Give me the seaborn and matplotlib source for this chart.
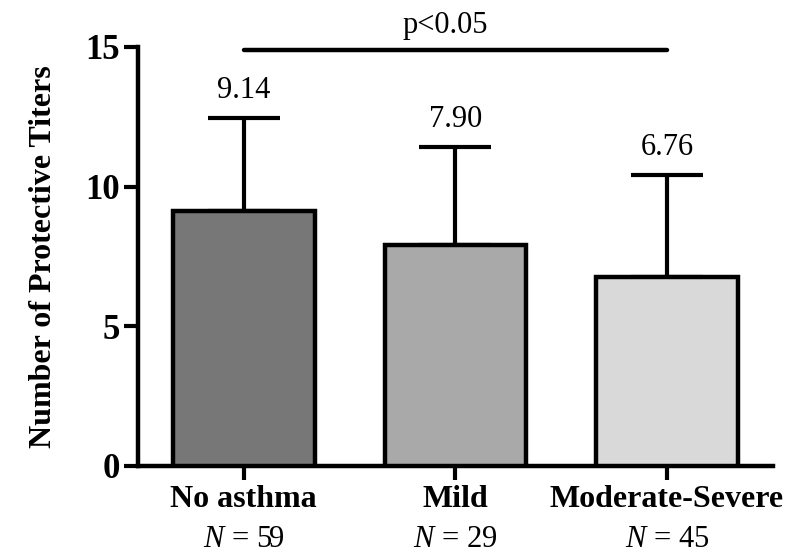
import matplotlib
matplotlib.use("Agg")
import matplotlib.pyplot as plt
import matplotlib.transforms as mtransforms
import seaborn as sns
import pandas as pd

categories = ["No asthma", "Mild", "Moderate-Severe"]
means = [9.14, 7.90, 6.76]
sds = [3.32, 3.52, 3.66]
ns = [59, 29, 45]
value_labels = ["9.14", "7.90", "6.76"]
yticks = [0, 5, 10, 15]
colors = ["#777777", "#a9a9a9", "#d9d9d9"]

sns.set_style("ticks")
plt.rcParams["font.family"] = ["Liberation Serif", "DejaVu Serif"]
plt.rcParams["mathtext.fontset"] = "custom"
plt.rcParams["mathtext.rm"] = "Liberation Serif"
plt.rcParams["mathtext.it"] = "Liberation Serif:italic"
plt.rcParams["text.color"] = "black"
plt.rcParams["axes.labelcolor"] = "black"
plt.rcParams["xtick.color"] = "black"
plt.rcParams["ytick.color"] = "black"

df = pd.DataFrame({"group": categories, "titers": means})

fig = plt.figure(figsize=(8, 5.59), dpi=100)
ax = fig.add_axes([0.1725, 0.1664, 0.966 - 0.1725, 0.916 - 0.1664])

sns.barplot(data=df, x="group", y="titers", hue="group", palette=colors,
            width=0.67, edgecolor="black", linewidth=3.2, legend=False,
            errorbar=None, ax=ax, zorder=3)

xs = list(range(len(categories)))
ax.errorbar(xs, means, yerr=[[0] * len(sds), sds], fmt="none", ecolor="black",
            elinewidth=3, capsize=26, capthick=3, zorder=2)

for x, m, s, lab in zip(xs, means, sds, value_labels):
    ax.text(x, m + s + 0.72, lab, ha="center", va="baseline", fontsize=22,
            color="black")

# significance line
ax.plot([0, 2], [14.9, 14.9], color="black", lw=3.2, solid_capstyle="round",
        clip_on=False)
ax.text(0.95, 15.5, "p<0.05", ha="center", va="baseline", fontsize=22,
        clip_on=False, color="black")

ax.set_xlim(-0.5, 2.5)
ax.set_ylim(0, 15)
ax.set_yticks(yticks)
ax.set_yticklabels([str(t) for t in yticks], fontsize=25, fontweight="bold")
ax.set_xticks(xs)
ax.set_xticklabels(categories, fontsize=23, fontweight="bold")
ax.tick_params(axis="both", width=3, length=10, colors="black", pad=4)
ax.tick_params(axis="y", pad=3)
ax.set_xlabel("")
ax.set_ylabel("Number of Protective Titers", fontsize=23, fontweight="bold",
              labelpad=20, color="black")

sns.despine(ax=ax)
for sp in ["left", "bottom"]:
    ax.spines[sp].set_linewidth(3.2)
    ax.spines[sp].set_color("black")

trans = mtransforms.blended_transform_factory(ax.transData, ax.transAxes)
for x, n in zip(xs, ns):
    ax.text(x, -0.176, r"$N$ = " + str(n), transform=trans, ha="center",
            va="center", fontsize=22, color="black")

fig.savefig("out.png", dpi=100)
